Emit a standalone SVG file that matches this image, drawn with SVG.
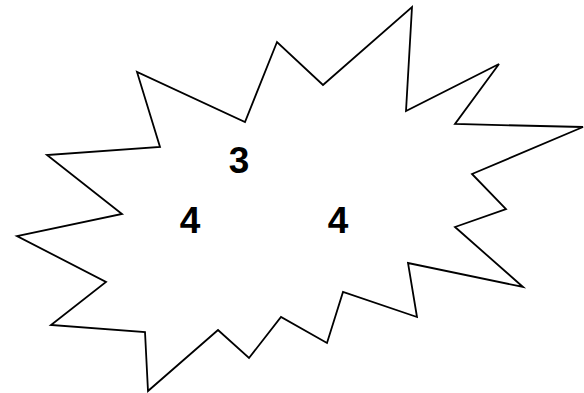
<svg xmlns="http://www.w3.org/2000/svg" width="584" height="393" viewBox="0 0 584 393">
<style>
.burst{fill:#fff;stroke:#000;stroke-width:1.8;stroke-linejoin:miter}
.lbl{font-family:"Liberation Sans",Arial,sans-serif;font-weight:bold;font-size:37px;fill:#000;text-anchor:middle}
</style>
<rect width="584" height="393" fill="#fff"/>
<g id="burst">
<polygon class="burst" points="277,42 245,122 137,72 160,147 47,155 122,214 17,236 106,282 51,325 145,332 148,391 218,330 249,358 281,317 327,343 343,292 417,317 408,263 523,287 455,227 506,209 472,174 583,127 455,124 499,64 406,111 412,7 323,85"/>
</g>
<g id="labels">
<text class="lbl" x="239" y="173">3</text>
<text class="lbl" x="190" y="233">4</text>
<text class="lbl" x="338" y="233">4</text>
</g>
</svg>
